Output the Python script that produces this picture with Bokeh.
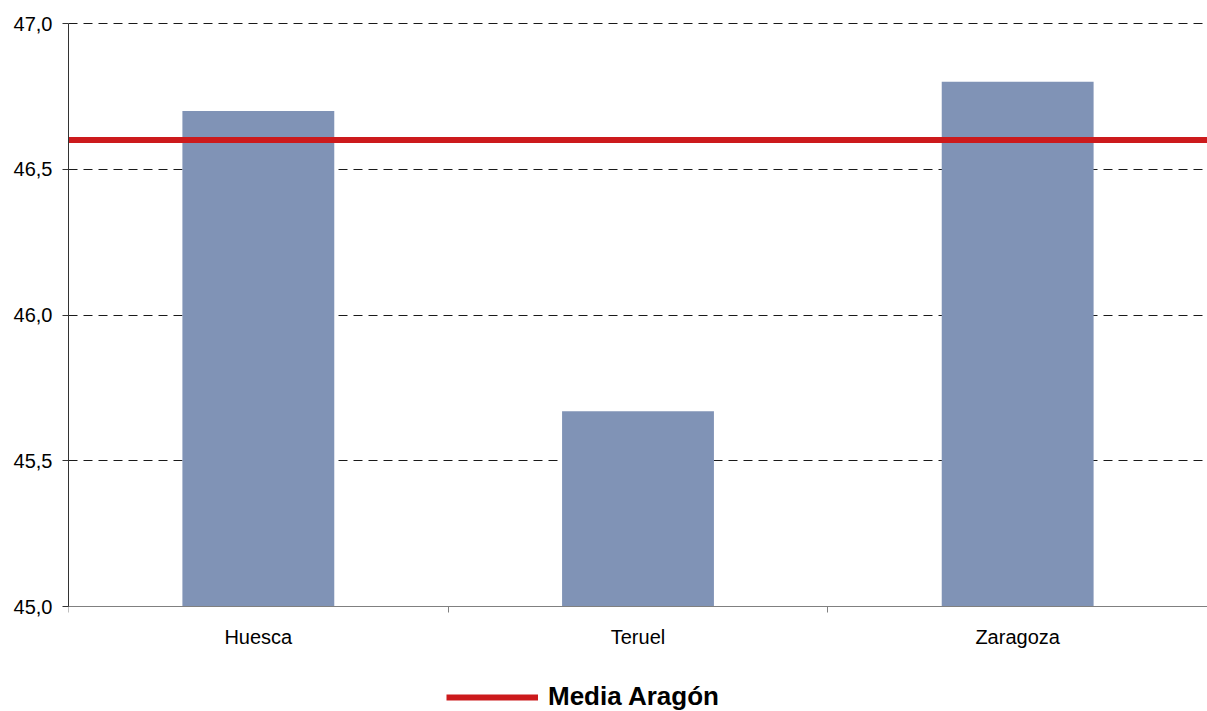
from bokeh.plotting import figure
from bokeh.models import (Range1d, FixedTicker, CustomJSTickFormatter, Legend,
                          LegendItem, ColumnDataSource)
from bokeh.embed import file_html
from bokeh.resources import INLINE

categories = ["Huesca", "Teruel", "Zaragoza"]
values = [46.70, 45.67, 46.80]
media_aragon = 46.6
media_label = "Media Aragón"
y_ticks = [45.0, 45.5, 46.0, 46.5, 47.0]
y_min, y_max = 45.0, 47.0

n = len(categories)
xs = [i + 0.5 for i in range(n)]
bounds = [float(i) for i in range(n + 1)]

# layout (pixels): frame spans the whole height; value axis 45..47 occupies 23..606
W, H = 1207, 711
top_px, base_px, frame_top = 23, 606, 22
ppu = (base_px - top_px) / (y_max - y_min)
y_start = y_min - (H - base_px) / ppu
y_end = y_max + (top_px - frame_top) / ppu

p = figure(width=W, height=H, output_backend="svg", toolbar_location=None,
           x_range=Range1d(0, n), y_range=Range1d(y_start, y_end),
           min_border_left=68, min_border_right=0, min_border_top=frame_top,
           min_border_bottom=0)
p.outline_line_color = None
p.background_fill_color = "white"
p.border_fill_color = "white"

src = ColumnDataSource(dict(x=xs, top=values, cat=categories))
p.vbar(x="x", top="top", bottom=y_min, width=0.4, source=src,
       fill_color="#8093B6", line_color=None)

line_r = p.line(x=[0, n], y=[media_aragon, media_aragon], line_color="#CC1A1C",
                line_width=6)

# grid
p.xgrid.visible = False
p.ygrid.ticker = FixedTicker(ticks=y_ticks)
p.ygrid.grid_line_color = "#1a1a1a"
p.ygrid.grid_line_dash = "9 6"
p.ygrid.grid_line_width = 1

# y axis
ya = p.yaxis[0]
ya.ticker = FixedTicker(ticks=y_ticks)
ya.bounds = (y_min, y_max)
ya.formatter = CustomJSTickFormatter(code="return tick.toFixed(1).replace('.', ',');")
ya.axis_line_color = "#333333"
ya.major_tick_line_color = "#333333"
ya.major_tick_out = 6
ya.major_tick_in = 0
ya.minor_tick_line_color = None
ya.major_label_text_font = "Liberation Sans"
ya.major_label_text_font_size = "20px"
ya.major_label_text_color = "black"
ya.major_label_standoff = 10

# x axis, drawn at the 45,0 baseline
xa = p.xaxis[0]
xa.fixed_location = y_min
xa.ticker = FixedTicker(ticks=xs, minor_ticks=bounds)
xa.formatter = CustomJSTickFormatter(args=dict(cats=categories),
                                     code="return cats[Math.floor(tick)];")
xa.axis_line_color = "#808080"
xa.major_tick_line_color = None
xa.major_tick_out = 0
xa.major_tick_in = 0
xa.minor_tick_line_color = "#808080"
xa.minor_tick_out = 6
xa.minor_tick_in = 0
xa.major_label_text_font = "Liberation Sans"
xa.major_label_text_font_size = "20px"
xa.major_label_text_color = "black"
xa.major_label_standoff = 13

legend = Legend(items=[LegendItem(label=media_label, renderers=[line_r])],
                location=(378, -1), orientation="horizontal",
                label_text_font="Liberation Sans", label_text_font_size="26px",
                label_text_font_style="bold", label_text_color="black",
                glyph_width=92, glyph_height=30, label_height=30,
                label_standoff=10, padding=0, margin=0, spacing=0,
                border_line_color=None, background_fill_alpha=0)
p.add_layout(legend, "center")

open("out.html", "w").write(file_html(p, INLINE))
